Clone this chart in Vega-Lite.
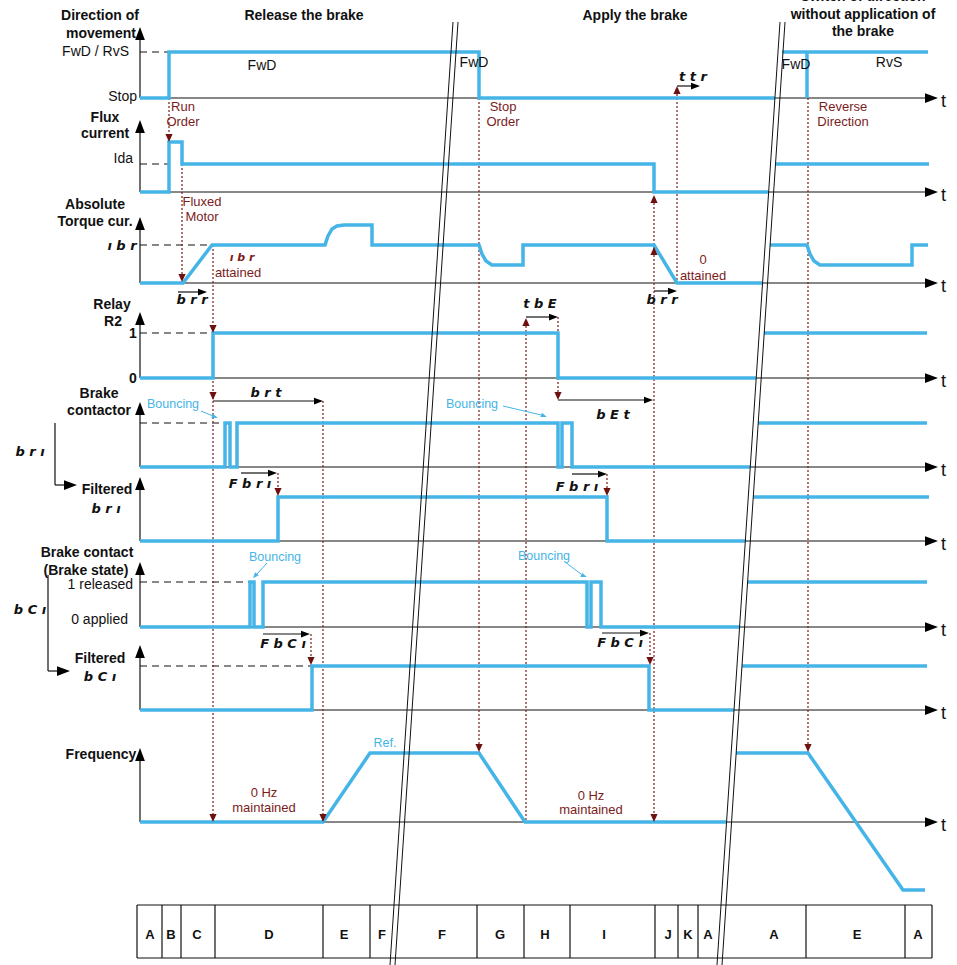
{
"$schema":"https://vega.github.io/schema/vega-lite/v6.json",
"width":957,"height":965,"autosize":{"type":"none"},"padding":0,"background":"white",
"config":{"view":{"stroke":null},"font":"Liberation Sans"},
"datasets":{
"sig":[
{"s":"S1","i":0,"t":140,"v":98},{"s":"S1","i":1,"t":169,"v":98},{"s":"S1","i":2,"t":169,"v":52},{"s":"S1","i":3,"t":479,"v":52},{"s":"S1","i":4,"t":479,"v":98},{"s":"S1","i":5,"t":775,"v":98},
{"s":"S1b","i":0,"t":782,"v":52},{"s":"S1b","i":1,"t":928,"v":52},
{"s":"S1c","i":0,"t":807,"v":52},{"s":"S1c","i":1,"t":807,"v":98},
{"s":"S2","i":0,"t":140,"v":192},{"s":"S2","i":1,"t":169,"v":192},{"s":"S2","i":2,"t":169,"v":142},{"s":"S2","i":3,"t":182,"v":142},{"s":"S2","i":4,"t":182,"v":164},{"s":"S2","i":5,"t":654,"v":164},{"s":"S2","i":6,"t":654,"v":192},{"s":"S2","i":7,"t":768,"v":192},
{"s":"S2b","i":0,"t":776,"v":164},{"s":"S2b","i":1,"t":929,"v":164},
{"s":"S3","i":0,"t":140,"v":283},{"s":"S3","i":1,"t":183,"v":283},{"s":"S3","i":2,"t":212,"v":245},{"s":"S3","i":3,"t":325,"v":245},{"s":"S3","i":4,"t":328,"v":236},{"s":"S3","i":5,"t":332,"v":229},{"s":"S3","i":6,"t":337,"v":226},{"s":"S3","i":7,"t":344,"v":225},{"s":"S3","i":8,"t":372,"v":225},{"s":"S3","i":9,"t":372,"v":245},{"s":"S3","i":10,"t":479,"v":245},{"s":"S3","i":11,"t":482,"v":254},{"s":"S3","i":12,"t":486,"v":261},{"s":"S3","i":13,"t":492,"v":265},{"s":"S3","i":14,"t":523,"v":265},{"s":"S3","i":15,"t":523,"v":245},{"s":"S3","i":16,"t":654,"v":245},{"s":"S3","i":17,"t":677,"v":283},{"s":"S3","i":18,"t":762,"v":283},
{"s":"S3b","i":0,"t":770,"v":245},{"s":"S3b","i":1,"t":807,"v":245},{"s":"S3b","i":2,"t":810,"v":254},{"s":"S3b","i":3,"t":814,"v":261},{"s":"S3b","i":4,"t":820,"v":265},{"s":"S3b","i":5,"t":912,"v":265},{"s":"S3b","i":6,"t":912,"v":245},{"s":"S3b","i":7,"t":928,"v":245},
{"s":"S4","i":0,"t":140,"v":378},{"s":"S4","i":1,"t":213,"v":378},{"s":"S4","i":2,"t":213,"v":333},{"s":"S4","i":3,"t":558,"v":333},{"s":"S4","i":4,"t":558,"v":378},{"s":"S4","i":5,"t":756,"v":378},
{"s":"S4b","i":0,"t":764,"v":333},{"s":"S4b","i":1,"t":927,"v":333},
{"s":"S5","i":0,"t":140,"v":467},{"s":"S5","i":1,"t":225,"v":467},{"s":"S5","i":2,"t":225,"v":423},{"s":"S5","i":3,"t":230,"v":423},{"s":"S5","i":4,"t":230,"v":467},{"s":"S5","i":5,"t":237,"v":467},{"s":"S5","i":6,"t":237,"v":423},{"s":"S5","i":7,"t":558,"v":423},{"s":"S5","i":8,"t":558,"v":467},{"s":"S5","i":9,"t":562,"v":467},{"s":"S5","i":10,"t":562,"v":423},{"s":"S5","i":11,"t":572,"v":423},{"s":"S5","i":12,"t":572,"v":467},{"s":"S5","i":13,"t":750,"v":467},
{"s":"S5b","i":0,"t":758,"v":423},{"s":"S5b","i":1,"t":927,"v":423},
{"s":"S6","i":0,"t":140,"v":541},{"s":"S6","i":1,"t":278,"v":541},{"s":"S6","i":2,"t":278,"v":497},{"s":"S6","i":3,"t":607,"v":497},{"s":"S6","i":4,"t":607,"v":541},{"s":"S6","i":5,"t":745,"v":541},
{"s":"S6b","i":0,"t":753,"v":497},{"s":"S6b","i":1,"t":929,"v":497},
{"s":"S7","i":0,"t":140,"v":627},{"s":"S7","i":1,"t":250,"v":627},{"s":"S7","i":2,"t":250,"v":582},{"s":"S7","i":3,"t":254,"v":582},{"s":"S7","i":4,"t":254,"v":627},{"s":"S7","i":5,"t":263,"v":627},{"s":"S7","i":6,"t":263,"v":582},{"s":"S7","i":7,"t":587,"v":582},{"s":"S7","i":8,"t":587,"v":627},{"s":"S7","i":9,"t":591,"v":627},{"s":"S7","i":10,"t":591,"v":582},{"s":"S7","i":11,"t":601,"v":582},{"s":"S7","i":12,"t":601,"v":627},{"s":"S7","i":13,"t":740,"v":627},
{"s":"S7b","i":0,"t":748,"v":582},{"s":"S7b","i":1,"t":927,"v":582},
{"s":"S8","i":0,"t":140,"v":710},{"s":"S8","i":1,"t":312,"v":710},{"s":"S8","i":2,"t":312,"v":666},{"s":"S8","i":3,"t":649,"v":666},{"s":"S8","i":4,"t":649,"v":710},{"s":"S8","i":5,"t":734,"v":710},
{"s":"S8b","i":0,"t":742,"v":666},{"s":"S8b","i":1,"t":927,"v":666},
{"s":"S9","i":0,"t":140,"v":822},{"s":"S9","i":1,"t":323,"v":822},{"s":"S9","i":2,"t":370,"v":753},{"s":"S9","i":3,"t":479,"v":753},{"s":"S9","i":4,"t":525,"v":822},{"s":"S9","i":5,"t":726,"v":822},
{"s":"S9b","i":0,"t":736,"v":753},{"s":"S9b","i":1,"t":808,"v":753},{"s":"S9b","i":2,"t":903,"v":890},{"s":"S9b","i":3,"t":925,"v":890}
],
"blk":[
{"t":140,"v":98,"t2":140,"v2":36},{"t":140,"v":192,"t2":140,"v2":129},{"t":140,"v":283,"t2":140,"v2":226},{"t":140,"v":378,"t2":140,"v2":321},{"t":140,"v":467,"t2":140,"v2":411},{"t":140,"v":541,"t2":140,"v2":486},{"t":140,"v":627,"t2":140,"v2":571},{"t":140,"v":710,"t2":140,"v2":654},{"t":140,"v":822,"t2":140,"v2":757},
{"t":140,"v":98,"t2":928,"v2":98},{"t":140,"v":192,"t2":928,"v2":192},{"t":140,"v":283,"t2":928,"v2":283},{"t":140,"v":378,"t2":928,"v2":378},{"t":140,"v":467,"t2":928,"v2":467},{"t":140,"v":541,"t2":928,"v2":541},{"t":140,"v":627,"t2":928,"v2":627},{"t":140,"v":710,"t2":928,"v2":710},{"t":140,"v":822,"t2":928,"v2":822},
{"t":55,"v":423,"t2":55,"v2":485},{"t":55,"v":485,"t2":66,"v2":485},{"t":48,"v":575,"t2":48,"v2":671},{"t":48,"v":671,"t2":59,"v2":671},
{"t":137,"v":905,"t2":932,"v2":905},{"t":137,"v":958,"t2":932,"v2":958},
{"t":137,"v":905,"t2":137,"v2":958},{"t":162,"v":905,"t2":162,"v2":958},{"t":181,"v":905,"t2":181,"v2":958},{"t":215,"v":905,"t2":215,"v2":958},{"t":323,"v":905,"t2":323,"v2":958},{"t":370,"v":905,"t2":370,"v2":958},{"t":477,"v":905,"t2":477,"v2":958},{"t":524,"v":905,"t2":524,"v2":958},{"t":570,"v":905,"t2":570,"v2":958},{"t":655,"v":905,"t2":655,"v2":958},{"t":678,"v":905,"t2":678,"v2":958},{"t":698,"v":905,"t2":698,"v2":958},{"t":806,"v":905,"t2":806,"v2":958},{"t":905,"v":905,"t2":905,"v2":958},{"t":932,"v":905,"t2":932,"v2":958},
{"t":178,"v":292,"t2":200,"v2":292},{"t":213,"v":401,"t2":316,"v2":401},{"t":241,"v":473,"t2":270,"v2":473},{"t":263,"v":634,"t2":303,"v2":634},{"t":526,"v":317,"t2":551,"v2":317},{"t":558,"v":400,"t2":646,"v2":400},{"t":654,"v":291,"t2":670,"v2":291},{"t":572,"v":474,"t2":600,"v2":474},{"t":602,"v":633,"t2":642,"v2":633},{"t":677,"v":86,"t2":693,"v2":86}
],
"brk":[
{"t":453,"v":22,"t2":390,"v2":965},{"t":458,"v":22,"t2":395,"v2":965},{"t":780,"v":22,"t2":717,"v2":965},{"t":785,"v":22,"t2":722,"v2":965}
],
"dash":[
{"t":140,"v":52,"t2":169,"v2":52},{"t":140,"v":164,"t2":169,"v2":164},{"t":140,"v":245,"t2":212,"v2":245},{"t":140,"v":333,"t2":213,"v2":333},{"t":140,"v":423,"t2":225,"v2":423},{"t":140,"v":582,"t2":250,"v2":582},{"t":140,"v":666,"t2":312,"v2":666}
],
"dot":[
{"t":169,"v":98,"t2":169,"v2":138},{"t":182,"v":164,"t2":182,"v2":278},{"t":213,"v":245,"t2":213,"v2":818},{"t":323,"v":401,"t2":323,"v2":818},{"t":278,"v":473,"t2":278,"v2":492},{"t":311,"v":634,"t2":311,"v2":661},{"t":479,"v":98,"t2":479,"v2":748},{"t":526,"v":322,"t2":526,"v2":822},{"t":558,"v":317,"t2":558,"v2":333},{"t":558,"v":378,"t2":558,"v2":396},{"t":654,"v":199,"t2":654,"v2":818},{"t":607,"v":474,"t2":607,"v2":492},{"t":650,"v":633,"t2":650,"v2":661},{"t":677,"v":90,"t2":677,"v2":283},{"t":808,"v":98,"t2":808,"v2":748}
],
"bnc":[
{"t":201,"v":411,"t2":213,"v2":416},{"t":503,"v":406,"t2":541,"v2":415},{"t":267,"v":563,"t2":257,"v2":574},{"t":565,"v":562,"t2":581,"v2":574}
],
"heads":[
{"k":"up","t":140,"v":33.5},{"k":"up","t":140,"v":126.5},{"k":"up","t":140,"v":223.5},{"k":"up","t":140,"v":318.5},{"k":"up","t":140,"v":408.5},{"k":"up","t":140,"v":483.5},{"k":"up","t":140,"v":568.5},{"k":"up","t":140,"v":651.5},{"k":"up","t":140,"v":754.5},
{"k":"right","t":931.5,"v":98},{"k":"right","t":931.5,"v":192},{"k":"right","t":931.5,"v":283},{"k":"right","t":931.5,"v":378},{"k":"right","t":931.5,"v":467},{"k":"right","t":931.5,"v":541},{"k":"right","t":931.5,"v":627},{"k":"right","t":931.5,"v":710},{"k":"right","t":931.5,"v":822},{"k":"right","t":70.5,"v":485},{"k":"right","t":63.5,"v":671},
{"k":"mdown","t":169,"v":138},{"k":"mdown","t":182,"v":278},{"k":"mdown","t":213,"v":329},{"k":"mdown","t":213,"v":396},{"k":"mdown","t":213,"v":818},{"k":"mdown","t":323,"v":818},{"k":"mdown","t":278,"v":492},{"k":"mdown","t":311,"v":661},{"k":"mdown","t":479,"v":748},{"k":"mdown","t":558,"v":396},{"k":"mdown","t":654,"v":818},{"k":"mdown","t":607,"v":492},{"k":"mdown","t":650,"v":661},{"k":"mdown","t":808,"v":748},
{"k":"mup","t":526,"v":322},{"k":"mup","t":654,"v":199},{"k":"mup","t":654,"v":251},{"k":"mup","t":677,"v":90},
{"k":"iright","t":202.5,"v":292},{"k":"iright","t":318.5,"v":401},{"k":"iright","t":272.5,"v":473},{"k":"iright","t":305.5,"v":634},{"k":"iright","t":553.5,"v":317},{"k":"iright","t":648.5,"v":400},{"k":"iright","t":672.5,"v":291},{"k":"iright","t":602.5,"v":474},{"k":"iright","t":644.5,"v":633},{"k":"iright","t":695.5,"v":86},
{"k":"bA","t":215,"v":417},{"k":"bA","t":544,"v":416},{"k":"bA","t":584,"v":576},{"k":"bB","t":255,"v":576}
],
"txt":[
{"k":"bold","t":100,"v":16,"s":"Direction of"},{"k":"bold","t":101,"v":34,"s":"movement"},{"k":"bold","t":105,"v":118,"s":"Flux"},{"k":"bold","t":105,"v":134,"s":"current"},{"k":"bold","t":95,"v":205,"s":"Absolute"},{"k":"bold","t":95,"v":222,"s":"Torque cur."},{"k":"bold","t":112,"v":305,"s":"Relay"},{"k":"bold","t":113,"v":322,"s":"R2"},{"k":"bold","t":99,"v":394,"s":"Brake"},{"k":"bold","t":99,"v":411,"s":"contactor"},{"k":"bold","t":107,"v":490,"s":"Filtered"},{"k":"bold","t":87,"v":553,"s":"Brake contact"},{"k":"bold","t":86,"v":571,"s":"(Brake state)"},{"k":"bold","t":100,"v":659,"s":"Filtered"},{"k":"bold","t":101,"v":755,"s":"Frequency"},{"k":"bold","t":133,"v":334,"s":"1"},{"k":"bold","t":133,"v":379,"s":"0"},{"k":"bold","t":304,"v":16,"s":"Release the brake"},{"k":"bold","t":635,"v":16,"s":"Apply the brake"},{"k":"bold","t":863,"v":-3,"s":"Switch of direction"},{"k":"bold","t":863,"v":15,"s":"without application of"},{"k":"bold","t":863,"v":32,"s":"the brake"},
{"k":"normr","t":129,"v":52,"s":"FwD / RvS"},{"k":"normr","t":137,"v":97,"s":"Stop"},{"k":"normr","t":133,"v":159,"s":"Ida"},{"k":"normr","t":133,"v":585,"s":"1 released"},{"k":"normr","t":128,"v":620,"s":"0 applied"},
{"k":"normc","t":262,"v":66,"s":"FwD"},{"k":"normc","t":474,"v":63,"s":"FwD"},{"k":"normc","t":796,"v":65,"s":"FwD"},{"k":"normc","t":889,"v":63,"s":"RvS"},
{"k":"tt","t":941,"v":102,"s":"t"},{"k":"tt","t":941,"v":196,"s":"t"},{"k":"tt","t":941,"v":287,"s":"t"},{"k":"tt","t":941,"v":382,"s":"t"},{"k":"tt","t":941,"v":471,"s":"t"},{"k":"tt","t":941,"v":545,"s":"t"},{"k":"tt","t":941,"v":631,"s":"t"},{"k":"tt","t":941,"v":714,"s":"t"},{"k":"tt","t":941,"v":826,"s":"t"},
{"k":"mar","t":183,"v":107,"s":"Run"},{"k":"mar","t":183,"v":122,"s":"Order"},{"k":"mar","t":202,"v":202,"s":"Fluxed"},{"k":"mar","t":202,"v":217,"s":"Motor"},{"k":"mar","t":238,"v":273,"s":"attained"},{"k":"mar","t":264,"v":793,"s":"0 Hz"},{"k":"mar","t":264,"v":808,"s":"maintained"},{"k":"mar","t":503,"v":107,"s":"Stop"},{"k":"mar","t":503,"v":122,"s":"Order"},{"k":"mar","t":703,"v":260,"s":"0"},{"k":"mar","t":703,"v":276,"s":"attained"},{"k":"mar","t":591,"v":796,"s":"0 Hz"},{"k":"mar","t":591,"v":810,"s":"maintained"},{"k":"mar","t":843,"v":107,"s":"Reverse"},{"k":"mar","t":843,"v":122,"s":"Direction"},
{"k":"marseg","t":242,"v":258,"s":"ı b r"},
{"k":"blue","t":173,"v":404,"s":"Bouncing"},{"k":"blue","t":472,"v":404,"s":"Bouncing"},{"k":"blue","t":275,"v":557,"s":"Bouncing"},{"k":"blue","t":544,"v":556,"s":"Bouncing"},{"k":"blue","t":385,"v":743,"s":"Ref."},
{"k":"seg","t":192,"v":300,"s":"b r r"},{"k":"seg","t":122,"v":246,"s":"ı b r"},{"k":"seg","t":266,"v":393,"s":"b r t"},{"k":"seg","t":250,"v":484,"s":"F b r ı"},{"k":"seg","t":106,"v":509,"s":"b r ı"},{"k":"seg","t":30,"v":452,"s":"b r ı"},{"k":"seg","t":283,"v":644,"s":"F b C ı"},{"k":"seg","t":100,"v":677,"s":"b C ı"},{"k":"seg","t":30,"v":610,"s":"b C ı"},{"k":"seg","t":540,"v":304,"s":"t b E"},{"k":"seg","t":613,"v":415,"s":"b E t"},{"k":"seg","t":662,"v":300,"s":"b r r"},{"k":"seg","t":577,"v":487,"s":"F b r ı"},{"k":"seg","t":620,"v":643,"s":"F b C ı"},{"k":"seg","t":693,"v":77,"s":"t t r"},
{"k":"tab","t":150,"v":935,"s":"A"},{"k":"tab","t":171,"v":935,"s":"B"},{"k":"tab","t":197,"v":935,"s":"C"},{"k":"tab","t":269,"v":935,"s":"D"},{"k":"tab","t":344,"v":935,"s":"E"},{"k":"tab","t":382,"v":935,"s":"F"},{"k":"tab","t":442,"v":935,"s":"F"},{"k":"tab","t":500,"v":935,"s":"G"},{"k":"tab","t":545,"v":935,"s":"H"},{"k":"tab","t":604,"v":935,"s":"I"},{"k":"tab","t":668,"v":935,"s":"J"},{"k":"tab","t":688,"v":935,"s":"K"},{"k":"tab","t":708,"v":935,"s":"A"},{"k":"tab","t":774,"v":935,"s":"A"},{"k":"tab","t":857,"v":935,"s":"E"},{"k":"tab","t":918,"v":935,"s":"A"}
]
},
"encoding":{
"x":{"field":"t","type":"quantitative","scale":{"domain":[0,957],"nice":false,"zero":false},"axis":null},
"y":{"field":"v","type":"quantitative","scale":{"domain":[0,965],"reverse":true,"nice":false,"zero":false},"axis":null}
},
"layer":[
{"data":{"name":"blk"},"mark":{"type":"rule","color":"#111111","strokeWidth":1.2},"encoding":{"x2":{"field":"t2"},"y2":{"field":"v2"}}},
{"data":{"name":"dash"},"mark":{"type":"rule","color":"#111111","strokeWidth":1.1,"strokeDash":[7,5]},"encoding":{"x2":{"field":"t2"},"y2":{"field":"v2"}}},
{"data":{"name":"dot"},"mark":{"type":"rule","color":"#7b1c1c","strokeWidth":1.2,"strokeDash":[2,2]},"encoding":{"x2":{"field":"t2"},"y2":{"field":"v2"}}},
{"data":{"name":"sig"},"mark":{"type":"line","color":"#45b4e6","strokeWidth":3.5,"strokeCap":"butt","strokeJoin":"miter"},"encoding":{"detail":{"field":"s"},"order":{"field":"i","type":"quantitative"}}},
{"data":{"name":"bnc"},"mark":{"type":"rule","color":"#45b4e6","strokeWidth":1},"encoding":{"x2":{"field":"t2"},"y2":{"field":"v2"}}},
{"data":{"name":"brk"},"mark":{"type":"rule","color":"#111111","strokeWidth":1},"encoding":{"x2":{"field":"t2"},"y2":{"field":"v2"}}},
{"data":{"name":"heads"},"transform":[{"filter":{"field":"k","equal":"up"}}],"mark":{"type":"point","shape":"M0,-1L0.75,1L-0.75,1Z","size":169,"filled":true,"color":"#000000","opacity":1}},
{"data":{"name":"heads"},"transform":[{"filter":{"field":"k","equal":"right"}}],"mark":{"type":"point","shape":"M1,0L-1,-0.75L-1,0.75Z","size":169,"filled":true,"color":"#000000","opacity":1}},
{"data":{"name":"heads"},"transform":[{"filter":{"field":"k","equal":"mdown"}}],"mark":{"type":"point","shape":"M0,1L0.9,-1L-0.9,-1Z","size":64,"filled":true,"color":"#6e1010","opacity":1}},
{"data":{"name":"heads"},"transform":[{"filter":{"field":"k","equal":"mup"}}],"mark":{"type":"point","shape":"M0,-1L0.9,1L-0.9,1Z","size":64,"filled":true,"color":"#6e1010","opacity":1}},
{"data":{"name":"heads"},"transform":[{"filter":{"field":"k","equal":"iright"}}],"mark":{"type":"point","shape":"M1,0L-1,-0.75L-1,0.75Z","size":81,"filled":true,"color":"#000000","opacity":1}},
{"data":{"name":"heads"},"transform":[{"filter":{"field":"k","equal":"bA"}}],"mark":{"type":"point","shape":"M1,0L-1,-0.8L-1,0.8Z","size":36,"filled":true,"color":"#45b4e6","opacity":1,"angle":22}},
{"data":{"name":"heads"},"transform":[{"filter":{"field":"k","equal":"bB"}}],"mark":{"type":"point","shape":"M1,0L-1,-0.8L-1,0.8Z","size":36,"filled":true,"color":"#45b4e6","opacity":1,"angle":130}},
{"data":{"name":"txt"},"transform":[{"filter":{"field":"k","equal":"bold"}}],"mark":{"type":"text","font":"Liberation Sans","fontSize":14,"fontWeight":"bold","color":"#111111","align":"center","baseline":"middle"},"encoding":{"text":{"field":"s"}}},
{"data":{"name":"txt"},"transform":[{"filter":{"field":"k","equal":"normr"}}],"mark":{"type":"text","font":"Liberation Sans","fontSize":14,"color":"#111111","align":"right","baseline":"middle"},"encoding":{"text":{"field":"s"}}},
{"data":{"name":"txt"},"transform":[{"filter":{"field":"k","equal":"normc"}}],"mark":{"type":"text","font":"Liberation Sans","fontSize":14,"color":"#111111","align":"center","baseline":"middle"},"encoding":{"text":{"field":"s"}}},
{"data":{"name":"txt"},"transform":[{"filter":{"field":"k","equal":"tt"}}],"mark":{"type":"text","font":"Liberation Sans","fontSize":18,"color":"#111111","align":"left","baseline":"middle"},"encoding":{"text":{"field":"s"}}},
{"data":{"name":"txt"},"transform":[{"filter":{"field":"k","equal":"mar"}}],"mark":{"type":"text","font":"Liberation Sans","fontSize":13,"color":"#7b1c1c","align":"center","baseline":"middle"},"encoding":{"text":{"field":"s"}}},
{"data":{"name":"txt"},"transform":[{"filter":{"field":"k","equal":"marseg"}}],"mark":{"type":"text","font":"DejaVu Sans","fontSize":11,"fontWeight":"bold","fontStyle":"italic","color":"#7b1c1c","align":"center","baseline":"middle"},"encoding":{"text":{"field":"s"}}},
{"data":{"name":"txt"},"transform":[{"filter":{"field":"k","equal":"blue"}}],"mark":{"type":"text","font":"Liberation Sans","fontSize":12.5,"color":"#45b4e6","align":"center","baseline":"middle"},"encoding":{"text":{"field":"s"}}},
{"data":{"name":"txt"},"transform":[{"filter":{"field":"k","equal":"seg"}}],"mark":{"type":"text","font":"DejaVu Sans","fontSize":13,"fontWeight":"bold","fontStyle":"italic","color":"#111111","align":"center","baseline":"middle"},"encoding":{"text":{"field":"s"}}},
{"data":{"name":"txt"},"transform":[{"filter":{"field":"k","equal":"tab"}}],"mark":{"type":"text","font":"Liberation Sans","fontSize":13,"fontWeight":"bold","color":"#111111","align":"center","baseline":"middle"},"encoding":{"text":{"field":"s"}}}
]
}
